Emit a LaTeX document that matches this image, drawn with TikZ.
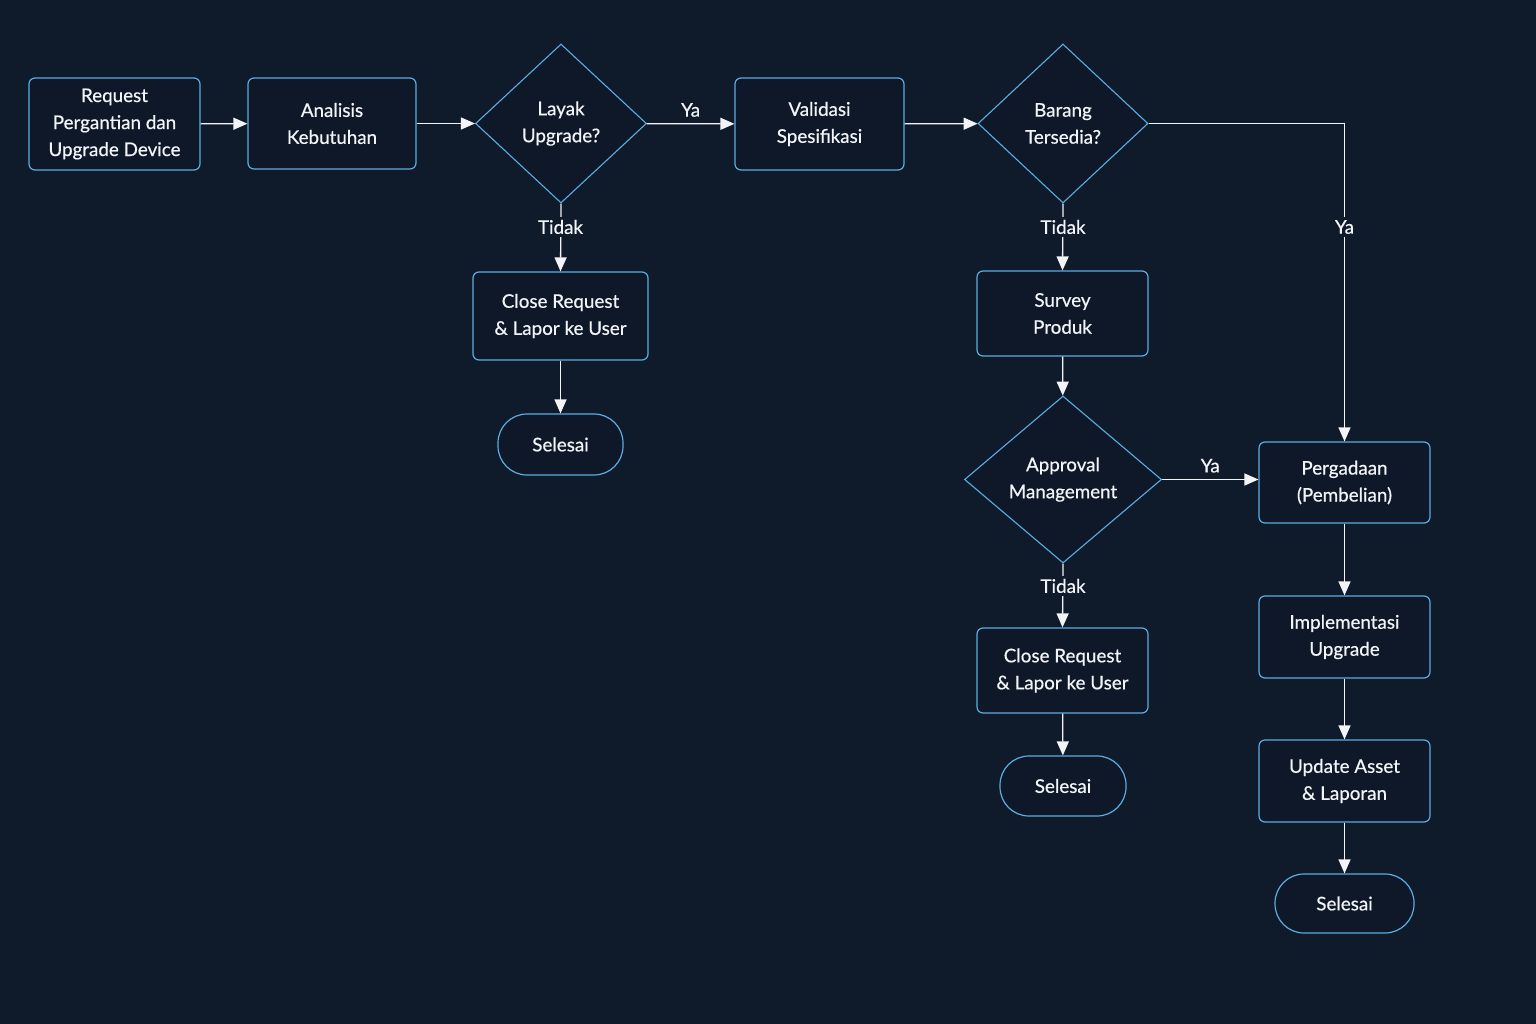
\documentclass[tikz,border=0pt]{standalone}
\usepackage{fontspec}
\setmainfont{Lato}
\newfontfamily\boxfont{Lato}[FakeBold=0.6]
\usetikzlibrary{shapes.geometric,arrows.meta}
\definecolor{bg}{HTML}{0F1A2B}
\definecolor{nodefill}{HTML}{0E1828}
\definecolor{edgeblue}{HTML}{5AAEE3}
\definecolor{fg}{HTML}{F2F4F7}
\begin{document}
\begin{tikzpicture}[x=1pt,y=-1pt,
 every node/.style={text=fg, font=\boxfont\fontsize{18.8}{27}\selectfont, align=center},
 box/.style={draw=edgeblue, line width=1.2pt, fill=nodefill, rounded corners=6pt, inner sep=0pt},
 dec/.style={diamond, draw=edgeblue, line width=1.1pt, fill=nodefill, inner sep=0pt},
 term/.style={draw=edgeblue, line width=1.2pt, fill=nodefill, rounded corners=29pt, inner sep=0pt},
 arr/.style={draw=fg, line width=1.3pt, -{Triangle[length=14pt,width=12pt]}},
 lbl/.style={fill=bg, inner sep=3pt}
]
\fill[bg] (0,0) rectangle (1536,1024);
\useasboundingbox (0,0) rectangle (1536,1024);

\node[box, minimum width=171pt, minimum height=92pt] (req) at (114.5,124) {Request\\Pergantian dan\\Upgrade Device};
\node[box, minimum width=168pt, minimum height=91pt] (ana) at (332,123.5) {Analisis\\Kebutuhan};
\node[dec, minimum width=171pt, minimum height=159pt] (lay) at (561,123.5) {Layak\\Upgrade?};
\node[box, minimum width=169pt, minimum height=92pt] (val) at (819.5,124) {Validasi\\Spesifikasi};
\node[dec, minimum width=170pt, minimum height=159pt] (bar) at (1063,123.5) {Barang\\Tersedia?};
\node[box, minimum width=175pt, minimum height=88pt] (cl1) at (560.5,316) {Close Request\\\& Lapor ke User};
\node[term, minimum width=125pt, minimum height=61pt] (sel1) at (560.5,444.5) {Selesai};
\node[box, minimum width=171pt, minimum height=85pt] (sur) at (1062.5,313.5) {Survey\\Produk};
\node[dec, minimum width=197pt, minimum height=167pt] (app) at (1063,479.5) {Approval\\Management};
\node[box, minimum width=171pt, minimum height=81pt] (per) at (1344.5,482.5) {Pergadaan\\(Pembelian)};
\node[box, minimum width=171pt, minimum height=85pt] (cl2) at (1062.5,670.5) {Close Request\\\& Lapor ke User};
\node[term, minimum width=126pt, minimum height=60pt] (sel2) at (1063,786) {Selesai};
\node[box, minimum width=171pt, minimum height=82pt] (imp) at (1344.5,637) {Implementasi\\Upgrade};
\node[box, minimum width=171pt, minimum height=82pt] (upd) at (1344.5,781) {Update Asset\\\& Laporan};
\node[term, minimum width=139pt, minimum height=59pt] (sel3) at (1344.5,903.5) {Selesai};

\draw[arr] (req) -- (ana);
\draw[arr] (ana) -- (lay);
\draw[arr] (lay) -- node[above=3pt] (ya1) {Ya} (val);
\draw[arr] (val) -- (bar);
\draw[arr] (bar.east) -| (per.north);
\node[lbl] (ya2) at (1344.5,227) {Ya};
\draw[arr] (lay.south) -- (cl1.north);
\node[lbl] (td1) at (560.5,227) {Tidak};
\draw[arr] (cl1) -- (sel1);
\draw[arr] (bar.south) -- (sur.north);
\node[lbl] (td2) at (1063,227) {Tidak};
\draw[arr] (sur) -- (app);
\draw[arr] (app.east) -- node[above=3pt] (ya3) {Ya} (app.east -| per.west);
\draw[arr] (app.south) -- (cl2.north);
\node[lbl] (td3) at (1063,586) {Tidak};
\draw[arr] (cl2) -- (sel2);
\draw[arr] (per) -- (imp);
\draw[arr] (imp) -- (upd);
\draw[arr] (upd) -- (sel3);
\end{tikzpicture}
\end{document}
